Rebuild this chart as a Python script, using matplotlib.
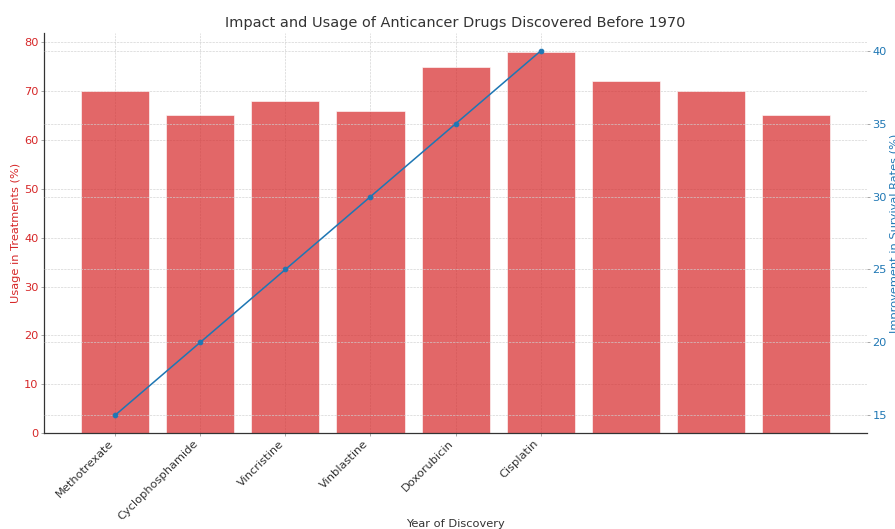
import matplotlib
matplotlib.use("Agg")
import matplotlib.pyplot as plt
import numpy as np

drugs = ["Methotrexate", "Cyclophosphamide", "Vincristine", "Vinblastine", "Doxorubicin", "Cisplatin"]
usage = [70, 65, 68, 66, 75, 78, 72, 70, 65]
survival = [15, 20, 25, 30, 35, 40]

plt.rcParams.update({
    "font.family": "DejaVu Sans",
    "font.size": 11,
    "text.color": "#333333",
    "axes.labelcolor": "#333333",
    "xtick.color": "#333333",
    "axes.edgecolor": "#333333",
    "xtick.labelsize": 11,
    "ytick.labelsize": 11,
})

DPI = 74.6
fig, ax1 = plt.subplots(figsize=(895 / DPI, 529 / DPI), dpi=DPI)
fig.subplots_adjust(left=0.049, right=0.969, top=0.938, bottom=0.181)

bar_x = np.arange(len(usage))
ax1.bar(bar_x, usage, width=0.8, color="tab:red", alpha=0.7, edgecolor="white", linewidth=0.8, zorder=2)
ax1.set_ylabel("Usage in Treatments (%)", color="tab:red", fontsize=11, labelpad=3)
ax1.tick_params(axis="y", labelcolor="tab:red", color="#999999", length=3, pad=2)
ax1.set_xticks(np.arange(len(drugs)))
ax1.set_xticklabels(drugs, rotation=45, ha="right")
ax1.tick_params(axis="x", color="#999999", length=3, pad=2)
ax1.set_xlabel("Year of Discovery", fontsize=11)
ax1.xaxis.set_label_coords(0.5, -0.215)
ax1.grid(True, linestyle="--", color="#d0d0d0", linewidth=0.6, zorder=0)
ax1.set_axisbelow(True)
for s in ("top", "right"):
    ax1.spines[s].set_visible(False)
ax1.spines["left"].set_linewidth(1.2)
ax1.spines["bottom"].set_linewidth(1.2)

ax2 = ax1.twinx()
ax2.plot(np.arange(len(survival)), survival, color="tab:blue", marker="o", markersize=4.5, linewidth=1.5)
ax2.set_ylabel("Improvement in Survival Rates (%)", color="tab:blue", fontsize=11, labelpad=3)
ax2.tick_params(axis="y", labelcolor="tab:blue", color="#999999", length=3, pad=2)
ax2.grid(True, linestyle="--", color="#d0d0d0", linewidth=0.6)
for s in ("top", "right", "left", "bottom"):
    ax2.spines[s].set_visible(False)

ax1.set_title("Impact and Usage of Anticancer Drugs Discovered Before 1970", fontsize=14)

fig.savefig("out.png", dpi=DPI)
